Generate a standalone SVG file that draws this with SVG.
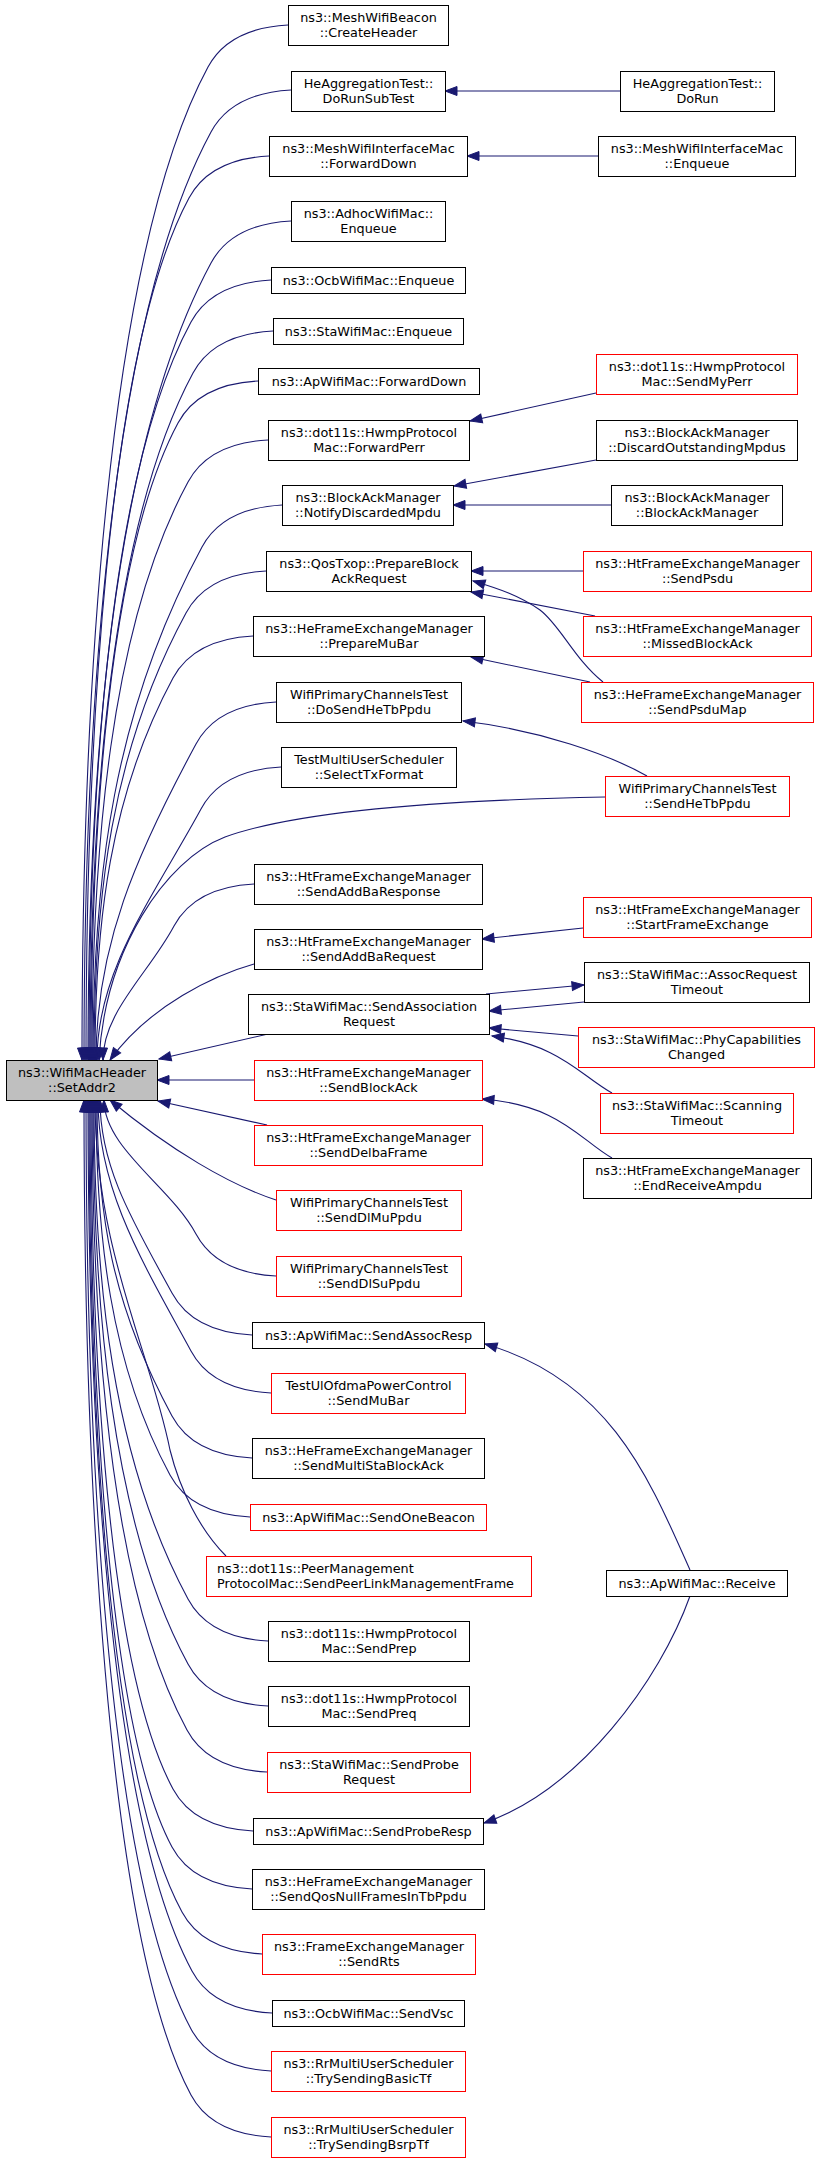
<svg xmlns="http://www.w3.org/2000/svg" width="816" height="2163" viewBox="0 0 816 2163">
<style>
.node rect{fill:#ffffff;stroke:#000000;stroke-width:1}
.node.red rect{stroke:#ff0000}
.node.main rect{fill:#bfbfbf}
.node text{font-family:"DejaVu Sans","Liberation Sans",sans-serif;font-size:12.8px;fill:#000000;text-anchor:middle}
.node.left text{text-anchor:start}
.edges path{fill:none;stroke:#191970;stroke-width:1.1;marker-end:url(#ah)}
</style>
<defs>
<marker id="ah" markerWidth="13" markerHeight="10" refX="12" refY="4.5" orient="auto" markerUnits="userSpaceOnUse" overflow="visible">
<path d="M0,0 L12,4.5 L0,9 Z" fill="#191970" stroke="#191970" stroke-width="1"/>
</marker>
</defs>
<rect width="816" height="2163" fill="#ffffff"/>
<g class="edges">
<path d="M288,25 C250,27 222,41 208,67 C106,256 82,703 82,1060"/>
<path d="M291,90 C253,92 225,106 211,132 C108,322 84,726 84,1060"/>
<path d="M269,156 C231,158 203,172 189,198 C106,352 86,750 86,1060"/>
<path d="M291,221 C253,223 225,237 211,263 C112,447 88,773 88,1060"/>
<path d="M271,280 C233,282 205,296 191,322 C108,475 89,794 89,1060"/>
<path d="M273,331 C235,333 207,347 193,373 C110,527 90,813 90,1060"/>
<path d="M258,381 C220,383 192,397 178,423 C108,553 91,831 91,1060"/>
<path d="M268,440 C230,442 202,456 188,482 C110,626 92,852 92,1060"/>
<path d="M282,505 C244,507 216,521 202,547 C114,710 93,875 93,1060"/>
<path d="M266,571 C228,573 200,587 186,613 C111,751 94,899 94,1060"/>
<path d="M253,636 C215,638 187,652 173,678 C110,795 95,922 95,1060"/>
<path d="M276,702 C238,704 210,718 196,744 C136,855 96,946 96,1060"/>
<path d="M281,767 C243,769 215,783 201,809 C153,897 97,970 97,1060"/>
<path d="M605,797 C450,800 300,810 225,837 C165,860 105,950 99,1060"/>
<path d="M254,884 C216,886 188,900 174,926 C149,973 103,1012 103,1060"/>
<path d="M254,964 C215,975 150,1005 110,1060"/>
<path d="M268,1034 L159,1059"/>
<path d="M254,1080 L157,1080"/>
<path d="M267,1125 L158,1101"/>
<path d="M276,1200 C230,1185 170,1150 110,1100"/>
<path d="M276,1276 C238,1274 210,1260 196,1234 C171,1187 104,1148 104,1100"/>
<path d="M252,1335 C214,1333 186,1319 172,1293 C135,1225 100,1169 100,1100"/>
<path d="M271,1393 C233,1391 205,1377 191,1351 C143,1263 98,1190 98,1100"/>
<path d="M252,1458 C214,1456 186,1442 172,1416 C112,1305 97,1214 97,1100"/>
<path d="M250,1517 C212,1515 184,1501 170,1475 C110,1364 96,1235 96,1100"/>
<path d="M226,1556 C200,1530 180,1490 170,1450 C150,1350 95,1250 95,1100"/>
<path d="M268,1641 C230,1639 202,1625 188,1599 C112,1458 94,1280 94,1100"/>
<path d="M268,1706 C230,1704 202,1690 188,1664 C111,1522 93,1303 93,1100"/>
<path d="M267,1772 C229,1770 201,1756 187,1730 C110,1588 92,1327 92,1100"/>
<path d="M253,1831 C215,1829 187,1815 173,1789 C107,1666 91,1348 91,1100"/>
<path d="M252,1889 C214,1887 186,1873 172,1847 C106,1724 90,1369 90,1100"/>
<path d="M262,1954 C224,1952 196,1938 182,1912 C106,1772 89,1392 89,1100"/>
<path d="M272,2013 C234,2011 206,1997 192,1971 C108,1815 88,1414 88,1100"/>
<path d="M271,2071 C233,2069 205,2055 191,2029 C106,1871 86,1434 86,1100"/>
<path d="M271,2137 C233,2135 205,2121 191,2095 C105,1935 84,1458 84,1100"/>
<path d="M620,91 L445,91"/>
<path d="M598,156 L467,156"/>
<path d="M596,393 L470,421"/>
<path d="M596,460 L454,486"/>
<path d="M611,505 L453,505"/>
<path d="M583,571 L471,571"/>
<path d="M595,616 L471,592"/>
<path d="M603,682 C575,660 560,625 540,610 C520,596 500,589 473,581"/>
<path d="M590,682 L471,657"/>
<path d="M647,776 C610,755 540,730 463,721"/>
<path d="M583,928 L482,939"/>
<path d="M486,994 L584,985"/>
<path d="M584,1002 L489,1011"/>
<path d="M578,1036 L489,1028"/>
<path d="M612,1093 C580,1075 560,1045 492,1036"/>
<path d="M612,1158 C580,1140 560,1105 482,1099"/>
<path d="M690,1570 C650,1480 610,1380 485,1344"/>
<path d="M690,1596 C660,1680 580,1790 484,1823"/>
</g>
<g id="n_createheader" class="node"><rect x="288.5" y="5.5" width="160" height="40"/><text x="368.5" y="22">ns3::MeshWifiBeacon</text><text x="368.5" y="37">::CreateHeader</text></g>
<g id="n_dorunsubtest" class="node"><rect x="291.5" y="71.5" width="154" height="40"/><text x="368.5" y="88">HeAggregationTest::</text><text x="368.5" y="103">DoRunSubTest</text></g>
<g id="n_dorun" class="node"><rect x="620.5" y="71.5" width="154" height="40"/><text x="697.5" y="88">HeAggregationTest::</text><text x="697.5" y="103">DoRun</text></g>
<g id="n_meshfwd" class="node"><rect x="269.5" y="136.5" width="198" height="40"/><text x="368.5" y="153">ns3::MeshWifiInterfaceMac</text><text x="368.5" y="168">::ForwardDown</text></g>
<g id="n_meshenq" class="node"><rect x="598.5" y="136.5" width="197" height="40"/><text x="697" y="153">ns3::MeshWifiInterfaceMac</text><text x="697" y="168">::Enqueue</text></g>
<g id="n_adhoc" class="node"><rect x="291.5" y="201.5" width="154" height="40"/><text x="368.5" y="218">ns3::AdhocWifiMac::</text><text x="368.5" y="233">Enqueue</text></g>
<g id="n_ocbenq" class="node"><rect x="271.5" y="267.5" width="194" height="26"/><text x="368.5" y="285">ns3::OcbWifiMac::Enqueue</text></g>
<g id="n_staenq" class="node"><rect x="273.5" y="318.5" width="190" height="26"/><text x="368.5" y="336">ns3::StaWifiMac::Enqueue</text></g>
<g id="n_sendmyperr" class="node red"><rect x="596.5" y="354.5" width="201" height="40"/><text x="697" y="371">ns3::dot11s::HwmpProtocol</text><text x="697" y="386">Mac::SendMyPerr</text></g>
<g id="n_apfwd" class="node"><rect x="258.5" y="368.5" width="221" height="26"/><text x="369" y="386">ns3::ApWifiMac::ForwardDown</text></g>
<g id="n_fwdperr" class="node"><rect x="268.5" y="420.5" width="201" height="40"/><text x="369" y="437">ns3::dot11s::HwmpProtocol</text><text x="369" y="452">Mac::ForwardPerr</text></g>
<g id="n_discard" class="node"><rect x="596.5" y="420.5" width="201" height="40"/><text x="697" y="437">ns3::BlockAckManager</text><text x="697" y="452">::DiscardOutstandingMpdus</text></g>
<g id="n_notify" class="node"><rect x="282.5" y="485.5" width="171" height="40"/><text x="368" y="502">ns3::BlockAckManager</text><text x="368" y="517">::NotifyDiscardedMpdu</text></g>
<g id="n_bam" class="node"><rect x="611.5" y="485.5" width="171" height="40"/><text x="697" y="502">ns3::BlockAckManager</text><text x="697" y="517">::BlockAckManager</text></g>
<g id="n_prepbar" class="node"><rect x="266.5" y="551.5" width="205" height="40"/><text x="369" y="568">ns3::QosTxop::PrepareBlock</text><text x="369" y="583">AckRequest</text></g>
<g id="n_sendpsdu" class="node red"><rect x="583.5" y="551.5" width="228" height="40"/><text x="697.5" y="568">ns3::HtFrameExchangeManager</text><text x="697.5" y="583">::SendPsdu</text></g>
<g id="n_prepmubar" class="node"><rect x="253.5" y="616.5" width="231" height="40"/><text x="369" y="633">ns3::HeFrameExchangeManager</text><text x="369" y="648">::PrepareMuBar</text></g>
<g id="n_missedba" class="node red"><rect x="583.5" y="616.5" width="228" height="40"/><text x="697.5" y="633">ns3::HtFrameExchangeManager</text><text x="697.5" y="648">::MissedBlockAck</text></g>
<g id="n_dosendhetb" class="node"><rect x="276.5" y="682.5" width="185" height="40"/><text x="369" y="699">WifiPrimaryChannelsTest</text><text x="369" y="714">::DoSendHeTbPpdu</text></g>
<g id="n_sendpsdumap" class="node red"><rect x="581.5" y="682.5" width="232" height="40"/><text x="697.5" y="699">ns3::HeFrameExchangeManager</text><text x="697.5" y="714">::SendPsduMap</text></g>
<g id="n_selecttx" class="node"><rect x="281.5" y="747.5" width="175" height="40"/><text x="369" y="764">TestMultiUserScheduler</text><text x="369" y="779">::SelectTxFormat</text></g>
<g id="n_sendhetb" class="node red"><rect x="605.5" y="776.5" width="184" height="40"/><text x="697.5" y="793">WifiPrimaryChannelsTest</text><text x="697.5" y="808">::SendHeTbPpdu</text></g>
<g id="n_addbaresp" class="node"><rect x="254.5" y="864.5" width="228" height="40"/><text x="368.5" y="881">ns3::HtFrameExchangeManager</text><text x="368.5" y="896">::SendAddBaResponse</text></g>
<g id="n_startfe" class="node red"><rect x="583.5" y="897.5" width="228" height="40"/><text x="697.5" y="914">ns3::HtFrameExchangeManager</text><text x="697.5" y="929">::StartFrameExchange</text></g>
<g id="n_addbareq" class="node"><rect x="254.5" y="929.5" width="228" height="40"/><text x="368.5" y="946">ns3::HtFrameExchangeManager</text><text x="368.5" y="961">::SendAddBaRequest</text></g>
<g id="n_assoctimeout" class="node"><rect x="584.5" y="962.5" width="225" height="40"/><text x="697" y="979">ns3::StaWifiMac::AssocRequest</text><text x="697" y="994">Timeout</text></g>
<g id="n_sendassoc" class="node"><rect x="248.5" y="994.5" width="241" height="40"/><text x="369" y="1011">ns3::StaWifiMac::SendAssociation</text><text x="369" y="1026">Request</text></g>
<g id="n_phycap" class="node red"><rect x="578.5" y="1027.5" width="236" height="40"/><text x="696.5" y="1044">ns3::StaWifiMac::PhyCapabilities</text><text x="696.5" y="1059">Changed</text></g>
<g id="n_main" class="node main"><rect x="6.5" y="1060.5" width="151" height="40"/><text x="82" y="1077">ns3::WifiMacHeader</text><text x="82" y="1092">::SetAddr2</text></g>
<g id="n_sendblockack" class="node red"><rect x="254.5" y="1060.5" width="228" height="40"/><text x="368.5" y="1077">ns3::HtFrameExchangeManager</text><text x="368.5" y="1092">::SendBlockAck</text></g>
<g id="n_scanning" class="node red"><rect x="600.5" y="1093.5" width="193" height="40"/><text x="697" y="1110">ns3::StaWifiMac::Scanning</text><text x="697" y="1125">Timeout</text></g>
<g id="n_delba" class="node red"><rect x="254.5" y="1125.5" width="228" height="40"/><text x="368.5" y="1142">ns3::HtFrameExchangeManager</text><text x="368.5" y="1157">::SendDelbaFrame</text></g>
<g id="n_endrecv" class="node"><rect x="583.5" y="1158.5" width="228" height="40"/><text x="697.5" y="1175">ns3::HtFrameExchangeManager</text><text x="697.5" y="1190">::EndReceiveAmpdu</text></g>
<g id="n_dlmu" class="node red"><rect x="276.5" y="1190.5" width="185" height="40"/><text x="369" y="1207">WifiPrimaryChannelsTest</text><text x="369" y="1222">::SendDlMuPpdu</text></g>
<g id="n_dlsu" class="node red"><rect x="276.5" y="1256.5" width="185" height="40"/><text x="369" y="1273">WifiPrimaryChannelsTest</text><text x="369" y="1288">::SendDlSuPpdu</text></g>
<g id="n_assocresp" class="node"><rect x="252.5" y="1322.5" width="232" height="26"/><text x="368.5" y="1340">ns3::ApWifiMac::SendAssocResp</text></g>
<g id="n_mubar" class="node red"><rect x="271.5" y="1373.5" width="194" height="40"/><text x="368.5" y="1390">TestUlOfdmaPowerControl</text><text x="368.5" y="1405">::SendMuBar</text></g>
<g id="n_multista" class="node"><rect x="252.5" y="1438.5" width="232" height="40"/><text x="368.5" y="1455">ns3::HeFrameExchangeManager</text><text x="368.5" y="1470">::SendMultiStaBlockAck</text></g>
<g id="n_onebeacon" class="node red"><rect x="250.5" y="1504.5" width="236" height="26"/><text x="368.5" y="1522">ns3::ApWifiMac::SendOneBeacon</text></g>
<g id="n_peerlink" class="node red left"><rect x="206.5" y="1556.5" width="325" height="40"/><text x="217" y="1573">ns3::dot11s::PeerManagement</text><text x="217" y="1588">ProtocolMac::SendPeerLinkManagementFrame</text></g>
<g id="n_receive" class="node"><rect x="606.5" y="1570.5" width="181" height="26"/><text x="697" y="1588">ns3::ApWifiMac::Receive</text></g>
<g id="n_sendprep" class="node"><rect x="268.5" y="1621.5" width="201" height="40"/><text x="369" y="1638">ns3::dot11s::HwmpProtocol</text><text x="369" y="1653">Mac::SendPrep</text></g>
<g id="n_sendpreq" class="node"><rect x="268.5" y="1686.5" width="201" height="40"/><text x="369" y="1703">ns3::dot11s::HwmpProtocol</text><text x="369" y="1718">Mac::SendPreq</text></g>
<g id="n_probereq" class="node red"><rect x="267.5" y="1752.5" width="203" height="40"/><text x="369" y="1769">ns3::StaWifiMac::SendProbe</text><text x="369" y="1784">Request</text></g>
<g id="n_proberesp" class="node"><rect x="253.5" y="1818.5" width="230" height="26"/><text x="368.5" y="1836">ns3::ApWifiMac::SendProbeResp</text></g>
<g id="n_qosnull" class="node"><rect x="252.5" y="1869.5" width="232" height="40"/><text x="368.5" y="1886">ns3::HeFrameExchangeManager</text><text x="368.5" y="1901">::SendQosNullFramesInTbPpdu</text></g>
<g id="n_sendrts" class="node red"><rect x="262.5" y="1934.5" width="213" height="40"/><text x="369" y="1951">ns3::FrameExchangeManager</text><text x="369" y="1966">::SendRts</text></g>
<g id="n_sendvsc" class="node"><rect x="272.5" y="2000.5" width="192" height="26"/><text x="368.5" y="2018">ns3::OcbWifiMac::SendVsc</text></g>
<g id="n_basictf" class="node red"><rect x="271.5" y="2051.5" width="194" height="40"/><text x="368.5" y="2068">ns3::RrMultiUserScheduler</text><text x="368.5" y="2083">::TrySendingBasicTf</text></g>
<g id="n_bsrptf" class="node red"><rect x="271.5" y="2117.5" width="194" height="40"/><text x="368.5" y="2134">ns3::RrMultiUserScheduler</text><text x="368.5" y="2149">::TrySendingBsrpTf</text></g>
</svg>
